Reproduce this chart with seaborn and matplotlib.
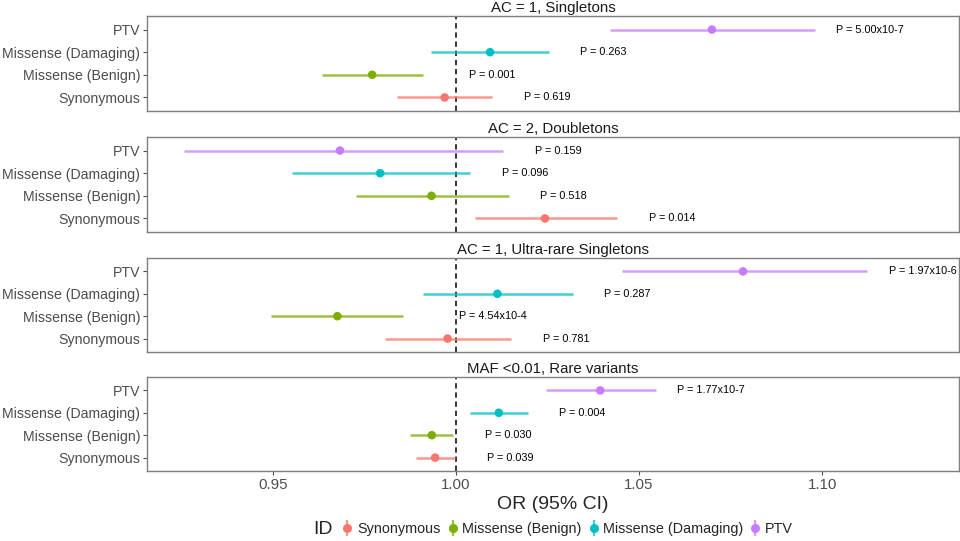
import numpy as np
import pandas as pd
import matplotlib
matplotlib.use("Agg")
import matplotlib.pyplot as plt
from matplotlib.lines import Line2D
from matplotlib.legend_handler import HandlerTuple
import seaborn as sns

# facet titles, top to bottom
groups = ["AC = 1, Singletons", "AC = 2, Doubletons",
          "AC = 1, Ultra-rare Singletons", "MAF <0.01, Rare variants"]
# variant classes, bottom to top within a facet
variant_types = ["Synonymous", "Missense (Benign)", "Missense (Damaging)", "PTV"]

# odds ratios and 95% CI, one list per facet, in variant_types order
or_singletons = [0.9969, 0.9771, 1.0093, 1.0699]
lo_singletons = [0.9840, 0.9634, 0.9933, 1.0421]
hi_singletons = [1.0099, 0.9911, 1.0253, 1.0981]
p_singletons = ["0.619", "0.001", "0.263", "5.00x10-7"]

or_doubletons = [1.0243, 0.9933, 0.9793, 0.9683]
lo_doubletons = [1.0051, 0.9726, 0.9553, 0.9257]
hi_doubletons = [1.0440, 1.0144, 1.0039, 1.0129]
p_doubletons = ["0.014", "0.518", "0.096", "0.159"]

or_ultrarare = [0.9977, 0.9676, 1.0113, 1.0784]
lo_ultrarare = [0.9807, 0.9496, 0.9910, 1.0454]
hi_ultrarare = [1.0150, 0.9854, 1.0319, 1.1124]
p_ultrarare = ["0.781", "4.54x10-4", "0.287", "1.97x10-6"]

or_rare = [0.9943, 0.9934, 1.0117, 1.0394]
lo_rare = [0.9890, 0.9874, 1.0039, 1.0246]
hi_rare = [0.9997, 0.9993, 1.0196, 1.0546]
p_rare = ["0.039", "0.030", "0.004", "1.77x10-7"]

# ggplot default hue palette
palette = dict(zip(variant_types, ["#F8766D", "#7CAE00", "#00BFC4", "#C77CFF"]))

rows = []
for g, ors, los, his, ps in zip(
        groups,
        [or_singletons, or_doubletons, or_ultrarare, or_rare],
        [lo_singletons, lo_doubletons, lo_ultrarare, lo_rare],
        [hi_singletons, hi_doubletons, hi_ultrarare, hi_rare],
        [p_singletons, p_doubletons, p_ultrarare, p_rare]):
    for i, vt in enumerate(variant_types):
        rows.append({"group": g, "ID": vt, "pos": i, "OR": ors[i],
                     "lo": los[i], "hi": his[i], "p": "P = " + ps[i]})
df = pd.DataFrame(rows)

sns.set_theme(style="white")
plt.rcParams["font.family"] = ["Liberation Sans", "DejaVu Sans"]

fig = plt.figure(figsize=(9.6, 5.41), dpi=100)
H = 541.0
left = 147 / 960
width = (959 - 147) / 960
panel_px = [(16, 111), (137, 232), (258, 352), (377, 471)]

axes = []
for k, g in enumerate(groups):
    top, bot = panel_px[k]
    ax = fig.add_axes([left, 1 - bot / H, width, (bot - top) / H])
    axes.append(ax)
    sub = df[df["group"] == g]

    ax.axvline(1.0, color="black", linestyle=(0, (3.5, 2.5)), linewidth=1.1, zorder=1)
    for _, r in sub.iterrows():
        ax.hlines(r["pos"], r["lo"], r["hi"], color=palette[r["ID"]],
                  linewidth=1.8, alpha=0.75, zorder=2)
        # p-value label sits just right of the CI (or of the null line)
        ax.text(max(r["hi"], 0.995) + 0.015, r["pos"], r["p"],
                ha="center", va="center", fontsize=7.8, color="black")
    sns.scatterplot(data=sub, x="OR", y="pos", hue="ID", palette=palette,
                    s=38, edgecolor="none", legend=False, ax=ax, zorder=3)

    ax.set_xlim(0.9156, 1.1374)
    ax.set_ylim(-0.6, 3.6)
    ax.set_yticks(range(len(variant_types)))
    ax.set_yticklabels(variant_types, fontsize=10.2, color="#4D4D4D")
    ax.set_ylabel("")
    ax.set_xlabel("")
    ax.set_title(g, fontsize=10.8, color="#1A1A1A", pad=3)
    for sp in ax.spines.values():
        sp.set_color("#7F7F7F")
        sp.set_linewidth(1.0)
    ax.tick_params(axis="y", length=3, width=0.8, color="#4D4D4D", pad=2, left=True)
    if k < len(groups) - 1:
        ax.set_xticks([])
    else:
        ax.set_xticks([0.95, 1.00, 1.05, 1.10])
        ax.set_xticklabels(["0.95", "1.00", "1.05", "1.10"], fontsize=10.8, color="#4D4D4D")
        ax.tick_params(axis="x", length=3, width=0.8, color="#4D4D4D", pad=2, bottom=True)
        ax.set_xlabel("OR (95% CI)", fontsize=14, labelpad=3)

# legend at the bottom, pointrange style keys
handles = []
for vt in variant_types:
    c = palette[vt]
    handles.append((Line2D([], [], color=c, marker="|", markersize=11, linestyle="",
                           markeredgewidth=1.6, alpha=0.75),
                    Line2D([], [], color=c, marker="o", markersize=5.5, linestyle="")))
fig.text(323 / 960, 1 - 529 / H, "ID", fontsize=14, ha="center", va="center")
fig.legend(handles, variant_types, handler_map={tuple: HandlerTuple(ndivide=1)},
           loc="center", bbox_to_anchor=(568 / 960, 1 - 529 / H), ncol=4,
           frameon=False, fontsize=10.4, handlelength=0.6, handletextpad=0.35,
           columnspacing=0.55, borderaxespad=0)

fig.savefig("out.png", dpi=100)
